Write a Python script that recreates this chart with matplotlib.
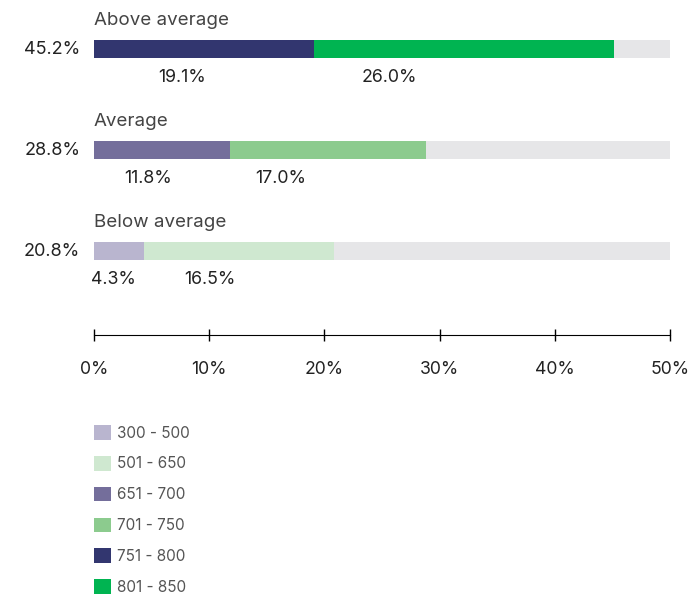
import matplotlib.pyplot as plt
from matplotlib.patches import Patch

plt.rcParams['font.family'] = ['Inter', 'DejaVu Sans']

groups = ['Above average', 'Average', 'Below average']
totals = ['45.2%', '28.8%', '20.8%']
low_band = [19.1, 11.8, 4.3]      # lower score band in each group
high_band = [26.0, 17.0, 16.5]    # upper score band in each group
low_colors = ['#32366f', '#746e9b', '#b9b5cf']
high_colors = ['#00b451', '#8ccb8e', '#cfe8d0']

legend_labels = ['300 - 500', '501 - 650', '651 - 700', '701 - 750', '751 - 800', '801 - 850']
legend_colors = ['#b9b5cf', '#cfe8d0', '#746e9b', '#8ccb8e', '#32366f', '#00b451']

xmax = 50
xticks = [0, 10, 20, 30, 40, 50]

W, H = 696, 596
fig = plt.figure(figsize=(W / 100, H / 100), dpi=100)
ax = fig.add_axes([94 / W, 1 - 335 / H, (670 - 94) / W, 335 / H])

rows = range(len(groups))
bh = 0.178
ax.barh(rows, [xmax] * 3, height=bh, color='#e6e6e8')
ax.barh(rows, low_band, height=bh, color=low_colors)
ax.barh(rows, high_band, left=low_band, height=bh, color=high_colors)

for i in rows:
    ax.text(0, i - 0.28, groups[i], ha='left', va='center', fontsize=13.5, color='#444444')
    ax.text(-1.2, i, totals[i], ha='right', va='center', fontsize=13, color='#222222')
    # value labels under each segment
    ax.text(0.8 * low_band[i] / 2, i + 0.285, f'{low_band[i]:.1f}%', ha='center', va='center',
            fontsize=12.8, color='#222222')
    ax.text(0.8 * (low_band[i] + high_band[i] / 2), i + 0.285, f'{high_band[i]:.1f}%',
            ha='center', va='center', fontsize=12.8, color='#222222')

ax.set_xlim(0, xmax)
ax.set_ylim(2.83, -0.485)
ax.set_yticks([])
ax.set_xticks(xticks)
ax.set_xticklabels([f'{t}%' for t in xticks], fontsize=12.7, color='#222222')
ax.tick_params(axis='x', direction='inout', length=8, width=1, pad=15, colors='black')
ax.tick_params(axis='x', labelcolor='#222222')
for s in ['top', 'right', 'left']:
    ax.spines[s].set_visible(False)
ax.spines['bottom'].set_color('black')
ax.patch.set_visible(False)

handles = [Patch(facecolor=c, edgecolor='none') for c in legend_colors]
fig.legend(handles, legend_labels, loc='upper left', bbox_to_anchor=(94 / W, 1 - 425 / H),
           frameon=False, fontsize=11, borderpad=0, borderaxespad=0,
           handlelength=1.11, handleheight=1.11, handletextpad=0.4, labelspacing=1.0,
           labelcolor='#555555')

fig.savefig('out.png', dpi=100)
